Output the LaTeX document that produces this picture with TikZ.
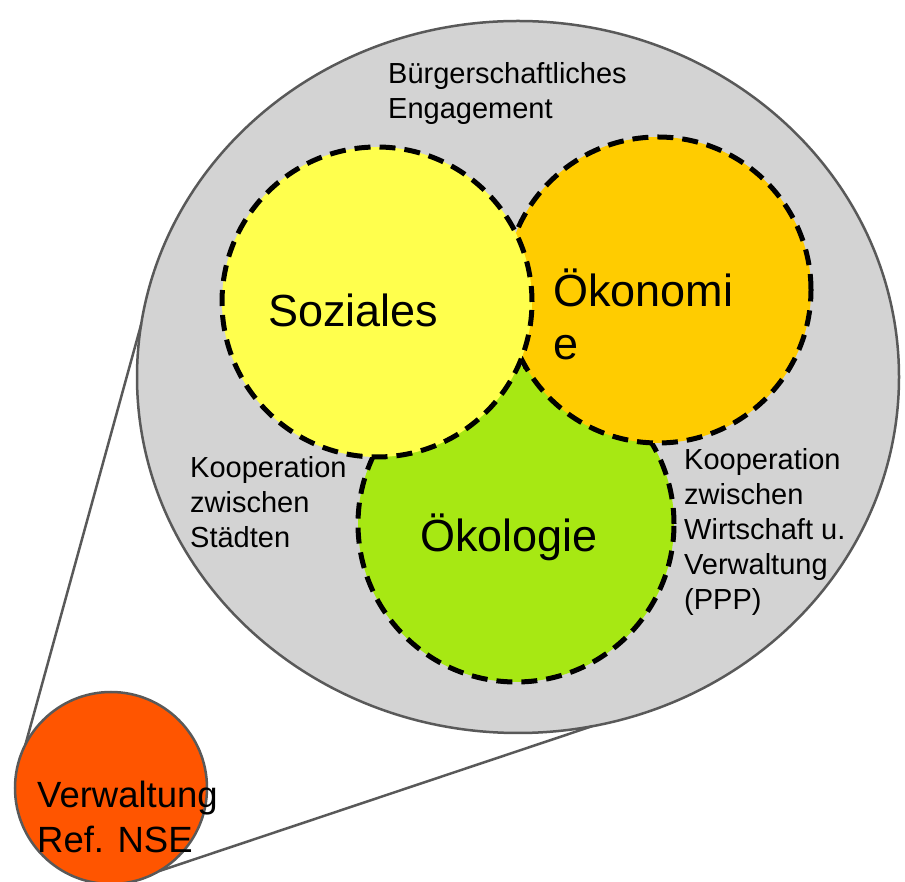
\documentclass[tikz,border=0pt]{standalone}
\usepackage{fontspec}
\setmainfont{Liberation Sans}
\usetikzlibrary{shapes.geometric,positioning}
\definecolor{zonegrey}{HTML}{D3D3D3}
\definecolor{rimgrey}{HTML}{595959}
\definecolor{socialyellow}{HTML}{FFFF4D}
\definecolor{economyorange}{HTML}{FFCC00}
\definecolor{ecologygreen}{HTML}{A7E813}
\definecolor{adminred}{HTML}{FF5500}
\tikzset{
  zone node/.style={ellipse,draw=rimgrey,line width=2.5pt,fill=zonegrey,
    inner sep=0pt,outer sep=0pt,minimum width=762pt,minimum height=712pt},
  pillar node/.style={circle,draw=black,line width=5pt,
    dash pattern=on 16pt off 9pt,inner sep=0pt,outer sep=0pt},
  admin node/.style={circle,draw=rimgrey,line width=2.5pt,fill=adminred,
    inner sep=0pt,outer sep=0pt,minimum size=192pt},
  zoom line/.style={rimgrey,line width=2.5pt},
  pillar label/.style={font=\fontsize{45}{53}\selectfont,align=left,
    anchor=base west,inner sep=0pt},
  zone label/.style={font=\fontsize{29}{35}\selectfont,align=left,
    anchor=base west,inner sep=0pt},
}

\begin{document}
\begin{tikzpicture}[x=1pt,y=1pt]
  \useasboundingbox (0,0) rectangle (905,881);

  % The grey zone is the enlarged view of the small red circle.
  \node[zone node] (zone) at (518,504) {};
  \node[admin node] (admin) at (111,93) {};
  \draw[zoom line] (admin.153)--(zone.172.5);
  \draw[zoom line] (admin.-60)--(zone.-78.5);

  % Three pillars, drawn back to front.
  \node[pillar node,fill=ecologygreen,minimum size=316pt] (ecology)
    at (516,357) {};
  \node[pillar node,fill=economyorange,minimum size=306pt] (economy)
    at (658,591) {};
  \node[pillar node,fill=socialyellow,minimum size=310pt] (social)
    at (377,579) {};

  % Multi-line labels sit on the baseline of their last line.
  \node[pillar label] (sociallabel) at (268,554) {Soziales};
  \node[pillar label] (economylabel) at (553,521) {Ökonomi\\e};
  \node[pillar label] (ecologylabel) at (420,329) {Ökologie};

  \node[zone label] (civic) at (388,762) {Bürgerschaftliches\\Engagement};
  \node[zone label] (cities) at (190,333)
    {Kooperation\\zwischen\\Städten};
  \node[zone label] (ppp) at (684,271)
    {Kooperation\\zwischen\\Wirtschaft u.\\Verwaltung\\(PPP)};

  \node[font=\fontsize{36.5}{45}\selectfont,align=left,anchor=base west,
    inner sep=0pt] (adminlabel) at (37,28) {Verwaltung\\Ref. NSE};
\end{tikzpicture}
\end{document}
